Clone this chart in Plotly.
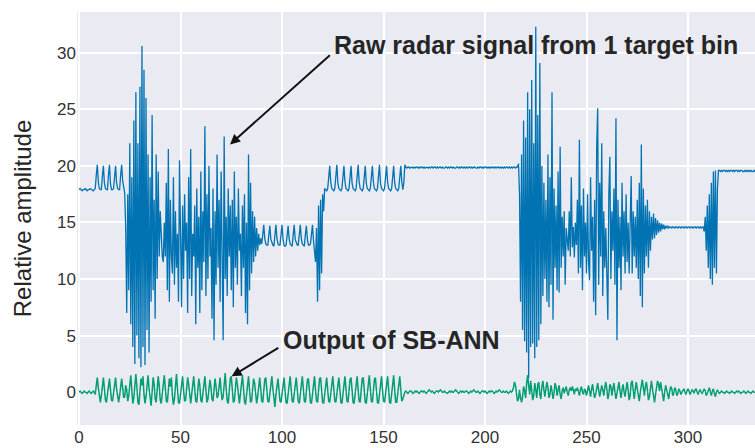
import numpy as np
import plotly.graph_objects as go

# sample spacing of the recording (x units per sample)
dt = 0.5

raw_signal = [
    17.9,18.0,17.9,17.8,17.9,17.9,18.0,17.9,17.8,17.9,17.9,18.0,17.9,17.9,17.8,17.9,18.0,19.2,20.1,18.6,
    18.0,17.9,17.9,19.1,20.0,18.5,18.0,17.9,17.9,19.2,20.1,18.4,17.9,17.9,18.0,19.0,20.0,18.5,18.0,17.9,
    17.9,19.2,20.1,18.7,18.1,17.6,14.5,7.0,17.5,9.0,22.0,6.0,19.0,4.0,24.0,2.5,26.5,5.0,22.0,3.0,
    27.0,2.2,30.6,4.0,28.5,2.4,26.0,5.5,21.0,3.5,19.0,8.0,24.5,9.0,17.0,6.5,21.0,10.0,19.5,12.0,
    16.0,13.0,12.0,11.5,15.0,12.0,18.5,9.0,21.5,8.0,17.0,12.0,10.5,19.0,9.5,16.0,11.0,14.0,8.0,20.5,
    11.0,7.5,16.5,10.0,17.5,12.5,15.0,7.0,19.0,10.0,21.5,8.5,14.0,12.0,16.5,6.0,18.0,11.0,15.5,7.0,
    19.5,9.0,16.0,11.5,23.5,8.5,17.5,10.0,20.0,12.0,14.5,6.5,18.0,4.6,16.0,9.5,21.0,11.0,17.0,8.0,
    19.5,12.0,4.6,22.6,10.0,15.5,8.5,18.0,12.0,16.5,9.0,17.0,7.5,19.5,11.0,15.5,9.5,18.0,12.5,14.0,
    8.5,16.5,11.0,17.5,7.0,15.0,6.0,21.0,9.0,18.5,10.5,16.0,11.5,15.5,12.0,14.5,12.5,14.0,13.0,13.6,
    13.1,13.9,14.8,13.6,13.1,13.0,13.0,13.9,14.7,13.5,13.1,13.0,12.9,13.8,14.8,13.6,13.1,13.0,13.0,13.9,
    14.8,13.5,13.0,12.9,13.0,13.8,14.7,13.6,13.1,13.0,12.9,13.9,14.8,13.5,13.1,13.0,13.0,13.8,14.8,13.6,
    13.1,13.0,12.9,13.9,14.7,13.5,13.0,13.0,13.1,13.9,14.8,13.4,12.6,11.5,14.5,8.0,16.5,9.0,17.0,10.5,
    17.5,16.0,18.0,17.9,17.8,18.0,19.1,20.0,18.6,18.0,17.9,17.8,18.0,19.2,20.1,18.5,18.0,17.9,17.8,18.0,
    19.1,20.0,18.6,18.0,17.9,17.8,18.0,19.2,20.0,18.5,18.0,17.9,17.8,18.0,19.1,20.1,18.6,18.0,17.9,17.8,
    18.0,19.2,20.0,18.5,18.0,17.9,17.8,18.0,19.1,20.0,18.6,18.0,17.9,17.8,18.0,19.2,20.1,18.5,18.0,17.9,
    17.8,18.0,19.1,20.0,18.6,18.0,17.9,17.8,18.0,19.2,20.0,18.5,18.0,17.9,17.8,18.0,19.1,20.0,18.6,17.9,
    18.5,20.1,19.9,19.8,19.9,19.9,19.8,19.9,19.9,19.8,19.9,19.8,19.9,19.9,19.8,19.9,19.8,19.9,19.9,19.8,
    19.9,19.8,19.9,19.9,19.8,19.9,19.8,19.9,19.9,19.8,19.9,19.9,19.8,19.9,19.8,19.9,19.9,19.8,19.9,19.8,
    19.8,19.9,19.9,19.8,19.9,19.8,19.9,19.9,19.8,19.9,19.8,19.8,19.9,19.9,19.8,19.9,19.8,19.9,19.9,19.8,
    19.9,19.8,19.9,19.8,19.9,19.9,19.8,19.9,19.8,19.9,19.9,19.8,19.8,19.9,19.8,19.9,19.9,19.8,19.9,19.8,
    19.9,19.9,19.8,19.9,19.8,19.9,19.8,19.9,19.9,19.8,19.9,19.8,19.9,19.9,19.8,19.9,19.8,19.9,19.8,19.9,
    19.8,19.9,19.9,19.8,19.9,19.8,19.9,19.8,19.9,19.9,19.8,19.9,19.9,20.2,17.5,8.0,21.0,5.5,24.0,4.5,
    22.5,3.5,26.5,1.2,25.0,4.0,27.6,4.3,22.0,3.0,32.3,4.0,24.5,4.6,29.1,6.0,20.0,8.5,18.5,10.0,
    17.0,8.0,21.0,7.5,19.0,9.5,26.5,6.4,18.0,11.0,16.5,9.0,19.5,8.8,21.7,11.0,15.5,12.0,16.0,9.5,
    14.5,13.0,12.5,16.0,12.0,19.0,12.8,14.6,11.9,15.0,13.0,17.0,10.5,22.3,11.0,16.5,9.0,18.0,12.0,15.0,
    10.5,17.5,11.5,9.9,19.0,12.5,15.5,8.0,17.0,6.8,21.5,25.1,9.5,18.5,12.0,22.0,8.5,16.0,11.0,14.5,
    9.0,6.4,17.5,20.8,10.0,16.0,12.5,18.0,9.5,24.2,4.6,17.0,11.0,15.5,9.0,18.5,12.0,16.0,10.5,17.5,
    11.5,15.0,10.5,16.5,19.1,10.5,16.0,12.0,15.5,11.0,17.0,10.0,18.5,8.5,21.9,7.5,18.0,10.5,16.5,12.0,
    17.0,11.0,16.0,12.5,15.5,13.5,15.8,13.6,15.4,13.9,15.2,14.1,15.0,14.2,14.9,14.4,14.8,14.4,14.7,14.5,
    14.7,14.5,14.6,14.6,14.5,14.6,14.6,14.5,14.6,14.6,14.5,14.6,14.6,14.5,14.6,14.6,14.5,14.6,14.6,14.5,
    14.6,14.6,14.5,14.6,14.6,14.5,14.6,14.6,14.5,14.6,14.6,14.5,14.6,14.5,14.6,14.6,14.2,15.5,12.5,16.5,
    11.0,17.5,10.0,18.5,9.5,19.5,11.0,19.6,10.5,18.0,19.6,19.6,19.5,19.6,19.5,19.6,19.6,19.5,19.6,19.5,
    19.6,19.5,19.6,19.6,19.5,19.6,19.5,19.6,19.6,19.5,19.6,19.5,19.6,19.6,19.5,19.5,19.6,19.5,19.6,19.5,
    19.6,19.5,19.6,19.5,19.5,19.6,19.5,19.6,
]

ann_output = [
    0.0,0.1,0.0,-0.1,0.0,0.1,0.0,0.0,-0.1,0.0,0.1,0.0,-0.1,0.0,0.1,0.0,-0.2,0.6,1.3,0.4,
    -0.6,-0.9,-0.3,0.7,1.3,0.3,-0.7,-0.9,-0.2,0.8,1.2,0.2,-0.7,-0.8,-0.2,0.7,1.3,0.3,-0.6,-0.9,
    -0.3,0.7,1.2,0.4,-0.5,-0.4,0.6,0.2,-0.8,-0.3,0.9,1.5,0.2,-1.0,-0.5,0.8,1.6,0.5,-0.9,-1.1,
    0.1,1.2,0.6,1.4,-0.2,-1.0,-0.4,0.9,1.5,0.3,-0.8,-1.2,0.0,1.3,0.7,-0.6,-0.9,0.2,1.4,0.6,
    -0.7,-1.0,-0.2,0.9,1.5,0.4,-0.8,-0.9,0.1,1.2,0.5,1.3,-0.3,-1.1,-0.6,0.8,1.6,0.3,-0.9,-1.0,
    -0.1,1.1,1.4,0.2,-0.8,-0.7,0.4,1.3,0.7,-0.6,-1.0,-0.2,0.9,1.4,0.3,-0.8,-0.9,0.2,1.2,0.6,
    -0.7,-0.9,-0.1,1.0,1.4,0.2,-0.9,-0.6,0.5,1.1,0.4,-0.6,-0.8,0.3,1.2,0.5,-0.5,-0.3,0.8,1.3,
    0.1,-0.7,-0.4,0.9,1.7,0.3,-0.8,-1.0,-0.1,1.2,1.4,0.2,-0.9,-0.8,0.3,1.3,0.7,-0.6,-1.0,-0.2,
    0.9,1.5,0.4,-0.8,-1.1,-0.2,1.0,1.4,0.2,-0.9,-0.8,0.2,1.2,0.8,-0.5,-1.0,-0.4,0.8,1.3,0.3,
    -0.8,-0.9,0.0,1.1,1.3,0.2,-0.8,-0.9,-0.1,1.0,1.4,0.3,-0.9,-1.3,-0.2,0.9,1.2,0.2,-0.8,-0.9,
    0.0,1.0,1.3,0.1,-0.9,-1.0,-0.1,1.1,1.4,0.3,-0.8,-0.9,0.0,1.0,1.3,0.2,-0.8,-1.0,-0.2,0.9,
    1.4,0.3,-0.8,-0.9,0.0,1.1,1.2,0.1,-0.9,-1.0,-0.1,1.0,1.4,0.2,-0.8,-0.9,0.1,1.2,1.3,0.2,
    -0.9,-1.0,-0.1,1.0,1.3,0.2,-0.8,-0.9,0.0,1.1,1.4,0.3,-0.8,-0.9,-0.1,0.9,1.3,0.2,-0.9,-1.0,
    0.0,1.0,1.4,0.3,-0.8,-0.9,0.0,1.1,1.3,0.1,-0.9,-1.0,-0.1,1.0,1.4,0.2,-0.8,-0.9,0.0,1.2,
    1.3,0.2,-0.9,-1.0,-0.1,1.0,1.5,0.3,-0.8,-0.9,0.0,1.1,1.3,0.1,-0.9,-1.0,-0.1,1.1,1.4,0.2,
    -0.8,-0.9,0.0,1.0,1.4,0.3,-0.9,-1.0,0.0,1.2,1.5,0.2,-0.9,-0.9,0.0,1.1,1.4,0.2,-0.8,-0.6,
    -0.2,0.0,0.1,0.0,-0.1,0.0,0.1,0.1,0.0,-0.1,0.0,0.1,0.0,0.1,0.0,-0.1,0.0,0.1,0.1,0.0,
    0.1,0.0,-0.1,0.0,0.1,0.2,0.1,0.0,0.1,0.0,-0.1,0.0,0.1,0.1,0.0,0.1,0.2,0.1,0.0,0.0,
    0.1,0.0,-0.1,-0.1,0.0,0.1,0.0,0.1,0.0,0.0,0.1,0.2,0.1,0.0,-0.1,0.0,0.1,0.0,0.1,0.0,
    0.0,0.1,0.1,0.0,-0.1,0.0,0.1,0.0,0.1,0.2,0.1,0.0,0.0,0.1,0.0,-0.1,0.0,0.1,0.1,0.0,
    0.1,0.0,-0.1,0.0,0.1,0.0,0.1,0.1,0.0,-0.1,0.0,0.1,0.0,0.1,0.2,0.1,0.0,0.0,0.1,0.0,
    0.0,0.1,0.0,-0.1,0.0,0.1,0.0,0.1,0.4,0.9,0.6,-0.3,-0.8,-0.6,0.2,-0.5,-0.9,-0.4,0.5,0.1,
    -0.5,0.8,1.5,0.6,-0.2,1.0,0.3,-0.7,-0.3,0.8,0.2,-0.5,0.7,0.9,-0.2,-0.6,0.5,1.0,0.2,-0.4,
    0.3,0.9,0.4,-0.5,-0.2,0.6,0.1,-0.6,-0.1,0.8,0.5,-0.3,0.2,0.6,-0.2,-0.6,0.1,0.4,-0.1,0.3,
    0.5,0.0,-0.3,0.2,0.4,0.1,0.5,0.2,-0.2,0.3,0.1,0.4,-0.1,-0.3,0.2,0.5,0.0,-0.2,0.3,0.1,
    -0.3,0.2,0.6,0.1,-0.4,0.3,0.7,0.0,-0.5,-0.2,0.4,0.8,0.2,-0.4,0.1,0.6,0.2,-0.3,0.4,0.9,
    0.3,-0.6,-0.2,0.7,0.5,-0.3,0.3,0.8,0.0,-0.6,-0.1,0.6,0.9,0.1,-0.5,0.2,0.7,0.0,-0.4,0.3,
    0.9,0.2,-0.7,-0.3,0.8,1.0,0.1,-0.6,0.2,0.9,0.3,-0.4,-0.8,0.0,0.7,1.1,0.4,-0.3,0.5,0.9,
    0.2,-0.7,-0.4,0.6,1.0,0.3,-0.5,-0.9,-0.2,0.5,1.0,0.7,0.1,0.9,0.3,-0.5,-0.8,0.0,0.6,0.2,
    -0.4,-0.6,0.1,0.5,0.3,-0.3,-0.1,0.4,0.2,-0.3,-0.1,0.3,0.1,-0.2,0.0,0.2,0.3,0.0,-0.2,0.1,
    0.3,0.1,-0.2,0.0,0.2,0.1,-0.1,0.2,0.3,0.0,-0.2,0.1,0.2,0.0,-0.1,0.1,0.3,0.1,-0.3,-0.1,
    0.2,0.4,0.0,-0.3,0.1,0.3,-0.1,-0.4,0.0,0.2,0.0,-0.1,0.0,0.1,0.0,0.0,-0.1,0.0,0.1,0.0,
    0.0,-0.1,0.0,0.1,0.0,0.0,-0.1,0.0,0.1,0.0,0.1,0.0,-0.1,0.0,0.0,0.1,0.0,-0.1,0.0,0.1,
    0.0,0.0,-0.1,0.0,0.1,0.0,0.0,-0.1,
]

x_ticks = [0, 50, 100, 150, 200, 250, 300]
y_ticks = [0, 5, 10, 15, 20, 25, 30]

t_raw = np.arange(len(raw_signal)) * dt
t_ann = np.arange(len(ann_output)) * dt

FONT = "Liberation Sans"

fig = go.Figure()
fig.add_trace(go.Scatter(x=t_raw, y=raw_signal, mode="lines",
                         line=dict(color="#0173B2", width=1.3), showlegend=False))
fig.add_trace(go.Scatter(x=t_ann, y=ann_output, mode="lines",
                         line=dict(color="#029E73", width=1.5), showlegend=False))

# text labels
fig.add_annotation(x=124.6, y=30.65, xref="x", yref="y", text="<b>Raw radar signal from 1 target bin</b>",
                   showarrow=False, xanchor="left", yanchor="middle",
                   font=dict(family=FONT, size=25, color="#262626"))
fig.add_annotation(x=99.3, y=4.6, xref="x", yref="y", text="<b>Output of SB-ANN</b>",
                   showarrow=False, xanchor="left", yanchor="middle",
                   font=dict(family=FONT, size=25, color="#262626"))
# arrows
fig.add_annotation(x=74.4, y=21.9, ax=124.3, ay=29.9, xref="x", yref="y", axref="x", ayref="y",
                   text="", showarrow=True, arrowhead=2, arrowsize=1, arrowwidth=2, arrowcolor="#111111")
fig.add_annotation(x=75.2, y=1.4, ax=98.9, ay=4.0, xref="x", yref="y", axref="x", ayref="y",
                   text="", showarrow=True, arrowhead=2, arrowsize=1, arrowwidth=2, arrowcolor="#111111")

fig.update_layout(
    width=755, height=448,
    margin=dict(l=77, r=0, t=12, b=23),
    paper_bgcolor="white", plot_bgcolor="#EAEAF2",
    font=dict(family=FONT, color="#333333"),
    xaxis=dict(range=[-1, 333], tickvals=x_ticks, showgrid=True, gridcolor="white", gridwidth=1.5,
               zeroline=False, showline=False, ticks="", tickfont=dict(size=17, color="#333333"),
               automargin=False),
    yaxis=dict(range=[-2.9, 33.6], tickvals=y_ticks, showgrid=True, gridcolor="white", gridwidth=1.5,
               zeroline=False, showline=False, ticks="", tickfont=dict(size=17, color="#333333"),
               title=dict(text="Relative amplitude", font=dict(size=24, color="#262626"), standoff=18),
               automargin=False),
)

fig.write_html("out.html")
